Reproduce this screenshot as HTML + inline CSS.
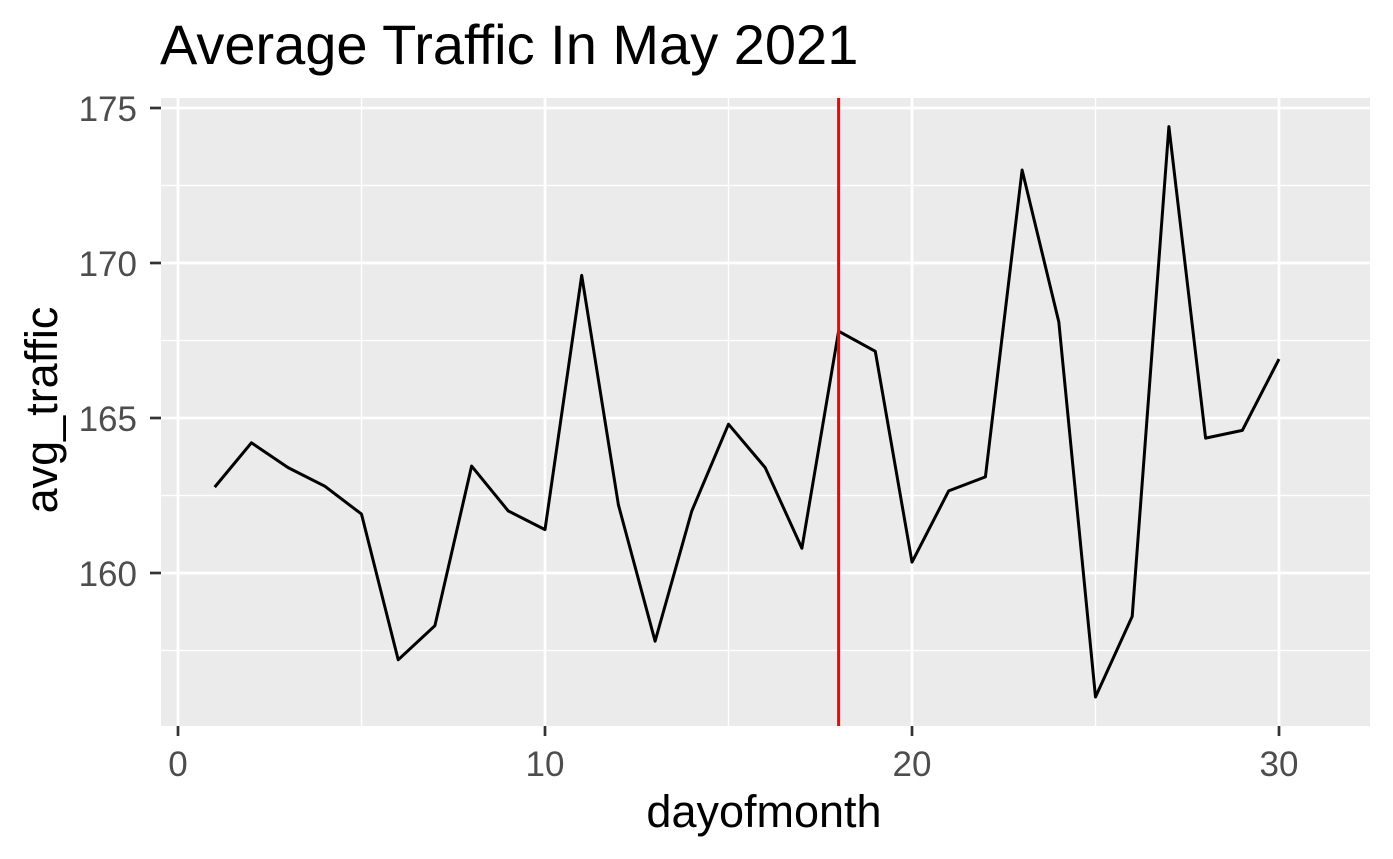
<!DOCTYPE html>
<html><head><meta charset="utf-8"><style>
body{margin:0;background:#fff;}
svg{display:block;font-family:"Liberation Sans",sans-serif;}
</style></head><body>
<svg id="chart" width="1393" height="859">
<text x="160" y="64" font-size="56" fill="#000">Average Traffic In May 2021</text>
<rect x="161" y="98" width="1209" height="628" fill="#ebebeb"/>
<g id="grid"></g><g id="marks"></g><g id="axes"></g>
<text x="764" y="827" font-size="45" text-anchor="middle" fill="#000">dayofmonth</text>
<text transform="translate(57,410) rotate(-90)" font-size="45" text-anchor="middle" fill="#000">avg_traffic</text>
</svg>
<script>
const days=[1,2,3,4,5,6,7,8,9,10,11,12,13,14,15,16,17,18,19,20,21,22,23,24,25,26,27,28,29,30];
const traffic=[162.77,164.2,163.4,162.8,161.9,157.2,158.3,163.45,162.0,161.4,169.6,162.2,157.8,162.0,164.8,163.4,160.8,167.8,167.15,160.35,162.65,163.1,173.0,168.1,156.0,158.6,174.4,164.35,164.6,166.9];
const xTicks=[0,10,20,30];
const xMinor=[5,15,25];
const yTicks=[160,165,170,175];
const yMinor=[157.5,162.5,167.5,172.5];
const markerDay=18;
const NS="http://www.w3.org/2000/svg";
const X=v=>178+(v-0)*36.7;
const Y=v=>108+(175-v)*31;
const L=161,R=1370,T=98,B=726;
function mk(p,tag,a){const e=document.createElementNS(NS,tag);for(const k in a)e.setAttribute(k,a[k]);document.getElementById(p).appendChild(e);return e;}
xMinor.forEach(v=>{const e=mk('grid','line',{x1:X(v),x2:X(v),y1:T,y2:B,stroke:'#fff','stroke-width':1.3});

});
yMinor.forEach(v=>{const e=mk('grid','line',{x1:L,x2:R,y1:Y(v),y2:Y(v),stroke:'#fff','stroke-width':1.3});

});
xTicks.forEach(v=>{const e=mk('grid','line',{x1:X(v),x2:X(v),y1:T,y2:B,stroke:'#fff','stroke-width':2.7});


const t=mk('axes','line',{x1:X(v),x2:X(v),y1:B,y2:B+10,stroke:'#333','stroke-width':2.7});


const l=mk('axes','text',{x:X(v),y:B+50,'font-size':35,fill:'#4d4d4d','text-anchor':'middle'});l.textContent=v;

});
yTicks.forEach(v=>{const e=mk('grid','line',{x1:L,x2:R,y1:Y(v),y2:Y(v),stroke:'#fff','stroke-width':2.7});


const t=mk('axes','line',{x1:L-11,x2:L,y1:Y(v),y2:Y(v),stroke:'#333','stroke-width':2.7});


const l=mk('axes','text',{x:L-24,y:Y(v)+13,'font-size':35,fill:'#4d4d4d','text-anchor':'end'});l.textContent=v;

});
const pl=mk('marks','polyline',{points:days.map((d,i)=>X(d)+','+Y(traffic[i])).join(' '),fill:'none',stroke:'#000','stroke-width':3,'stroke-linejoin':'round'});


const vl=mk('marks','line',{x1:X(markerDay),x2:X(markerDay),y1:T,y2:B,stroke:'#ff0000','stroke-width':3});


</script>
</body></html>
